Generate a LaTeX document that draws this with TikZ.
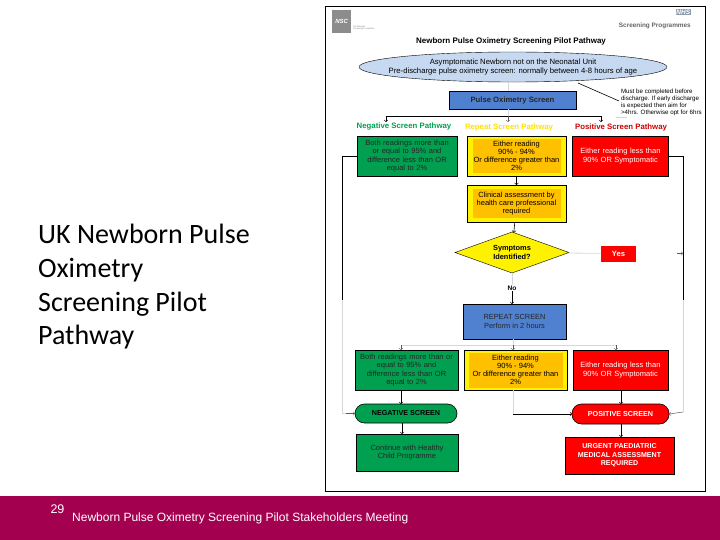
\documentclass[tikz,border=0pt]{standalone}
\usepackage{fontspec}
\setmainfont{Carlito}
\setsansfont{Liberation Sans}
\usetikzlibrary{positioning,calc,shapes.geometric}
\definecolor{footer}{HTML}{A30050}
\definecolor{nhsgreen}{HTML}{00A050}
\definecolor{ovalblue}{HTML}{C6D9F0}
\definecolor{boxblue}{HTML}{4F81D0}
\definecolor{amber}{HTML}{FFC000}
\definecolor{linegrey}{HTML}{D4D8DC}
\tikzset{
  tiny/.style={font=\sffamily\fontsize{7.5}{8.2}\selectfont, align=center, inner sep=1pt, outer sep=0pt},
  box/.style={tiny, draw, line width=0.6pt},
  greenbox/.style={box, fill=nhsgreen, text=black!85},
  redbox/.style={box, fill=red, text=white},
  bluebox/.style={box, fill=boxblue, text=black!85},
  yellowbox/.style={box, fill=yellow},
  amberbox/.style={tiny, fill=amber, text=black},
  pill/.style={box, rounded corners=9.5pt, font=\sffamily\bfseries\fontsize{7.2}{8}\selectfont},
  heading/.style={tiny, font=\sffamily\bfseries\fontsize{7.8}{8}\selectfont},
  link/.style={->, line width=0.6pt},
  pale/.style={line width=0.8pt, draw=linegrey},
  stub/.style={->, black!65, line width=0.5pt}
}
\begin{document}
\begin{tikzpicture}[x=1pt, y=-1pt]
\useasboundingbox (0,0) rectangle (720,540);
\fill[white] (0,0) rectangle (720,540);

% Slide furniture
\fill[footer] (0,496) rectangle (720,540);
\node (slide-title) [anchor=north west, align=left, inner sep=0pt, font=\fontsize{28}{33.7}\selectfont] at (38,224) {UK Newborn Pulse\\Oximetry\\Screening Pilot\\Pathway};
\node (slide-num) [anchor=center, inner sep=0pt, text=white, font=\sffamily\fontsize{12.5}{14}\selectfont] at (57.5,509) {29};
\node (slide-foot) [anchor=west, inner sep=0pt, text=white, font=\sffamily\fontsize{12}{14}\selectfont] at (72,518.5) {Newborn Pulse Oximetry Screening Pilot Stakeholders Meeting};

% Chart frame and header
\node (frame) [draw, line width=0.6pt, minimum width=380pt, minimum height=485pt, outer sep=0pt] at (515,248.5) {};
\node (nsc) [anchor=north west, fill=black!45, text=white, minimum width=19pt, minimum height=23pt, inner sep=0pt, text depth=-4pt, font=\sffamily\bfseries\itshape\fontsize{6}{7}\selectfont] at (332,10) {NSC};
\node (nsc-name) [anchor=west, inner sep=0pt, text=black!50, align=left, font=\sffamily\fontsize{2.2}{2.8}\selectfont] at (353,28) {UK National\\Screening Committee};
\node (nhs) [anchor=north east, fill=black!10!ovalblue!80!black, text=white, inner sep=0.7pt, font=\sffamily\bfseries\itshape\fontsize{6.5}{7}\selectfont] at (691,9) {NHS};
\node (programmes) [anchor=east, inner sep=0pt, text=black!60, font=\sffamily\bfseries\fontsize{6.4}{7}\selectfont] at (691,25.5) {Screening Programmes};
\node (chart-title) [inner sep=0pt, font=\sffamily\bfseries\fontsize{8}{9}\selectfont] at (511,41.5) {Newborn Pulse Oximetry Screening Pilot Pathway};

% Top of pathway
\node (start) [ellipse, draw, fill=ovalblue, tiny, inner xsep=-17pt, inner ysep=0pt, minimum width=308pt, minimum height=30pt, font=\sffamily\fontsize{7.7}{8.4}\selectfont] at (513,67) {Asymptomatic Newborn not on the Neonatal Unit\\Pre-discharge pulse oximetry screen: normally between 4-8 hours of age};
\node (screen) [bluebox, minimum width=127pt, minimum height=18pt, font=\sffamily\bfseries\fontsize{7.7}{8}\selectfont] at (512.5,100.5) {Pulse Oximetry Screen};
\node (note) [anchor=north west, tiny, align=left, font=\sffamily\fontsize{6.2}{7}\selectfont] at (620,88) {Must be completed before\\discharge. If early discharge\\is expected then aim for\\>4hrs. Otherwise opt for 6hrs};

% Column headings
\node (neg-head) [heading, text=nhsgreen] at (404,127) {Negative Screen Pathway};
\node (rep-head) [heading, text=yellow!85!orange] at (509,127) {Repeat Screen Pathway};
\node (pos-head) [heading, text=red!80!black] at (621,127) {Positive Screen Pathway};

% First readings
\node (neg-first) [greenbox, text width=98pt, minimum height=40pt] at (407,156) {Both readings more than\\or equal to 95\% and\\difference less than OR\\equal to 2\%};
\node (rep-first) [yellowbox, minimum width=99pt, minimum height=40pt] at (516.5,156) {};
\node (rep-first-in) [amberbox, minimum width=88pt, minimum height=34pt] at (rep-first) {Either reading\\90\% - 94\%\\Or difference greater than\\2\%};
\node (pos-first) [redbox, text width=94pt, minimum height=40pt] at (620.5,156) {Either reading less than\\90\% OR Symptomatic};

% Assessment and symptoms
\node (clinical) [yellowbox, minimum width=99pt, minimum height=37pt, below=9pt of rep-first] {};
\node (clinical-in) [amberbox, minimum width=88pt, minimum height=29pt] at (clinical) {Clinical assessment by\\health care professional\\required};
\node (symptoms) [diamond, draw, fill=yellow, tiny, line width=0.4pt, minimum width=114pt, minimum height=41pt, aspect=2.78, inner sep=0pt, font=\sffamily\bfseries\fontsize{7.4}{8.4}\selectfont] at (512,252.5) {Symptoms\\Identified?};
\node (yes) [redbox, anchor=west, minimum width=35pt, minimum height=16pt, draw=none, font=\sffamily\bfseries\fontsize{7.6}{8}\selectfont] at (601,253.5) {Yes};
\node (repeat) [bluebox, minimum width=103pt, minimum height=35pt, font=\sffamily\fontsize{7.4}{8.4}\selectfont] at (514.5,321.5) {REPEAT SCREEN\\Perform in 2 hours};
\node (no) [tiny, fill=white, font=\sffamily\bfseries\fontsize{6.6}{7}\selectfont] at (512,288) {No};

% Second readings
\node (neg-second) [greenbox, text width=101pt, minimum height=40pt] at (406.5,370) {Both readings more than or\\equal to 95\% and\\difference less than OR\\equal to 2\%};
\node (rep-second) [yellowbox, minimum width=103pt, minimum height=40pt] at (515.5,370) {};
\node (rep-second-in) [amberbox, minimum width=94pt, minimum height=35pt] at (rep-second) {Either reading\\90\% - 94\%\\Or difference greater than\\2\%};
\node (pos-second) [redbox, text width=93pt, minimum height=40pt] at (620.5,370) {Either reading less than\\90\% OR Symptomatic};

% Outcomes
\node (negative) [pill, fill=nhsgreen, minimum width=102pt, minimum height=19pt] at (406,413.5) {NEGATIVE SCREEN};
\node (positive) [pill, fill=red, text=white, minimum width=97pt, minimum height=20pt] at (620.5,414) {POSITIVE SCREEN};
\node (healthy) [greenbox, minimum width=102pt, minimum height=37pt] at (407,452.5) {Continue with Healthy\\Child Programme};
\node (urgent) [redbox, minimum width=109pt, minimum height=37pt, font=\sffamily\bfseries\fontsize{7.1}{8.3}\selectfont] at (619.5,455.5) {URGENT PAEDIATRIC\\MEDICAL ASSESSMENT\\REQUIRED};

% Junctions
\coordinate (split-top) at (508,116);
\coordinate (split-low) at (513,345);
\coordinate (note-tail) at (578,83);
\coordinate (note-end) at (619,101);
\coordinate (note-foot) at (616,117);
\coordinate (note-foot-end) at (627,117);
\coordinate (left-mid) at (342,300);
\coordinate (left-low) at (342,413.5);
\coordinate (left-tip) at (346,413.5);
\coordinate (right-mid) at (683,300);
\coordinate (right-low) at (683,412);
\coordinate (right-stub) at (677,253.5);
\coordinate (right-hit) at (683,253.5);

% Top connectors
\draw[pale] (split-top |- start.south) -- (split-top |- screen.north);
\draw[line width=0.6pt] (note-tail) -- (note-end);
\draw[pale] (note-foot) -- (note-foot-end);
\draw[pale] (split-top |- screen.south) -- (split-top);
\draw[link] (split-top) -| (386,122);
\draw[link] (split-top) -| (601,122);
\draw[stub] (split-top) -- (508,122);

% First reading connectors
\draw[link] (rep-first) -- (clinical);
\draw[link] (clinical) -- (symptoms);
\draw[pale] (symptoms) -- (yes);
\draw[pale] (symptoms) -- (no);
\draw[link] (no) -- (no |- repeat.north);
\draw[line width=0.7pt] (neg-first.west) -| (left-mid);
\draw[pale] (left-mid) -- (left-low) -- (left-tip);
\draw[stub] (left-tip) -- (negative.west);
\draw[line width=0.7pt] (pos-first.east) -| (right-mid);
\draw[pale] (right-mid) -- (right-low);
\draw[stub] (right-low) -- (positive.east);
\draw[stub] (right-stub) -- (right-hit);

% Second reading connectors
\draw[pale] (repeat.south -| split-low) -- (split-low);
\draw[pale] (401,345) -- (616,345);
\draw[stub] (401,345) -- (401,350);
\draw[stub] (split-low) -- (513,350);
\draw[stub] (616,345) -- (616,350);
\draw[link] (401,390) -- (401,404);
\draw[link] (402,423) -- (402,434);
\draw[link] (621,390) -- (621,404);
\draw[link] (621,424) -- (621,437);
\draw[pale] (rep-second.south -| split-low) -- (513,414);
\draw[link] (513,414) -- (positive.west);
\end{tikzpicture}
\end{document}
